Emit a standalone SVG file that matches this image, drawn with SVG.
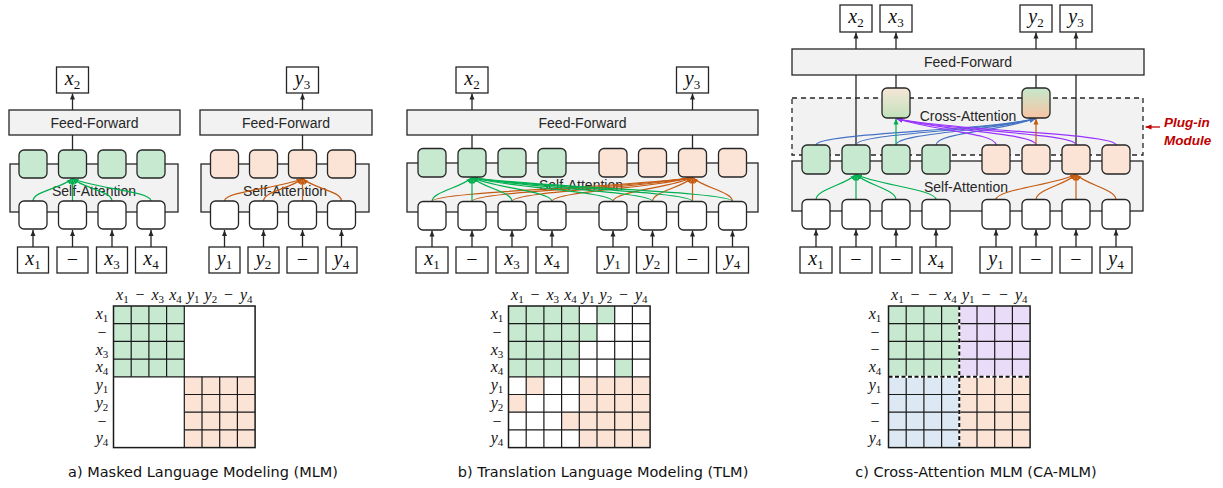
<svg xmlns="http://www.w3.org/2000/svg" width="1223" height="488" viewBox="0 0 1223 488">
<defs>
<style>
.gr{fill:#f2f2f2;stroke:#262626;stroke-width:1.3}
.gn{fill:#c6e9d0;stroke:#262626;stroke-width:1.3}
.pn{fill:#fbe3d6;stroke:#262626;stroke-width:1.3}
.wn{fill:#fff;stroke:#262626;stroke-width:1.3}
.ln{stroke:#262626;stroke-width:1.3;fill:none}
.ar{stroke:#262626;stroke-width:1.3;fill:none;marker-end:url(#ak)}
.cg{stroke:#00b050;stroke-width:1.2;fill:none;marker-end:url(#ag)}
.co{stroke:#c55a11;stroke-width:1.2;fill:none;marker-end:url(#ao)}
.cb{stroke:#4472c4;stroke-width:1.2;fill:none;marker-end:url(#ab)}
.cp{stroke:#9933ff;stroke-width:1.2;fill:none;marker-end:url(#ap)}
.t{font-family:"Liberation Sans",Arial,sans-serif;font-size:14px;fill:#262626;text-anchor:middle}
.m{font-family:"Liberation Serif","DejaVu Serif",serif;font-style:italic;font-size:20px;fill:#111;text-anchor:middle}
.mm{font-size:16px}
.s{font-style:normal;font-size:13px}
.mm .s{font-size:11px}
.d{font-style:normal}
.cap{font-family:"DejaVu Sans",sans-serif;font-size:14.5px;fill:#111;text-anchor:middle}
.grid{stroke:#1a1a1a;stroke-width:1.2;fill:none}
.dsh{fill:#f2f2f2;stroke:#262626;stroke-width:1.3;stroke-dasharray:5 4}
.plug{font-family:"Liberation Sans",Arial,sans-serif;font-size:13.5px;font-weight:bold;font-style:italic;fill:#c00000}
</style>
<marker id="ak" viewBox="0 0 6 6" markerWidth="6" markerHeight="6" refX="6" refY="3" orient="auto" markerUnits="userSpaceOnUse"><path d="M0,0.5 L6,3 L0,5.5z" fill="#262626"/></marker>
<marker id="ag" viewBox="0 0 6 6" markerWidth="6" markerHeight="6" refX="6" refY="3" orient="auto" markerUnits="userSpaceOnUse"><path d="M0,0.5 L6,3 L0,5.5z" fill="#00b050"/></marker>
<marker id="ao" viewBox="0 0 6 6" markerWidth="6" markerHeight="6" refX="6" refY="3" orient="auto" markerUnits="userSpaceOnUse"><path d="M0,0.5 L6,3 L0,5.5z" fill="#c55a11"/></marker>
<marker id="ab" viewBox="0 0 6 6" markerWidth="6" markerHeight="6" refX="6" refY="3" orient="auto" markerUnits="userSpaceOnUse"><path d="M0,0.5 L6,3 L0,5.5z" fill="#4472c4"/></marker>
<marker id="ap" viewBox="0 0 6 6" markerWidth="6" markerHeight="6" refX="6" refY="3" orient="auto" markerUnits="userSpaceOnUse"><path d="M0,0.5 L6,3 L0,5.5z" fill="#9933ff"/></marker>
<marker id="ar" viewBox="0 0 6 6" markerWidth="6" markerHeight="6" refX="6" refY="3" orient="auto" markerUnits="userSpaceOnUse"><path d="M0,0.5 L6,3 L0,5.5z" fill="#c00000"/></marker>
<linearGradient id="gpg" x1="0" y1="0" x2="0" y2="1"><stop offset="0" stop-color="#f6e6d6"/><stop offset="1" stop-color="#c2e2bb"/></linearGradient>
<linearGradient id="ggp" x1="0" y1="0" x2="0" y2="1"><stop offset="0" stop-color="#c6e8cc"/><stop offset="1" stop-color="#f7c4a4"/></linearGradient>
<path id="g8" d="M17.7 0V141.6M35.4 0V141.6M53.1 0V141.6M70.8 0V141.6M88.5 0V141.6M106.2 0V141.6M123.9 0V141.6M0 17.7H141.6M0 35.4H141.6M0 53.1H141.6M0 70.8H141.6M0 88.5H141.6M0 106.2H141.6M0 123.9H141.6"/>
<path id="g4" d="M17.7 0V70.8M35.4 0V70.8M53.1 0V70.8M0 17.7H70.8M0 35.4H70.8M0 53.1H70.8"/>
</defs>
<rect width="1223" height="488" fill="#fff"/>

<!-- ===== Panel a ===== -->
<g id="a-ff1"><rect class="gr" x="9" y="110" width="171" height="25"/><text class="t" x="94.5" y="127.5">Feed-Forward</text></g>
<g id="a-ff2"><rect class="gr" x="200" y="110" width="172" height="25"/><text class="t" x="286" y="127.5">Feed-Forward</text></g>
<g id="a-sa1"><rect class="gr" x="10" y="164" width="168" height="48"/><text class="t" x="94" y="196">Self-Attention</text></g>
<g id="a-sa2"><rect class="gr" x="201" y="164" width="168" height="48"/><text class="t" x="285" y="196">Self-Attention</text></g>
<g id="a-out1"><rect class="wn" x="56.5" y="67" width="32" height="26"/><text class="m" x="72.5" y="85">x<tspan class="s" dy="4">2</tspan></text></g>
<g id="a-out2"><rect class="wn" x="286.5" y="67" width="32" height="26"/><text class="m" x="302.5" y="85">y<tspan class="s" dy="4">3</tspan></text></g>

<g id="a-connectors">
<path class="ar" d="M72.5 110V93.5"/><path class="ar" d="M302.5 110V93.5"/>
<path class="ln" d="M72.5 135V150M302.5 135V150"/>
<path class="ar" d="M33 247V230"/><path class="ar" d="M72.5 247V230"/><path class="ar" d="M112 247V230"/><path class="ar" d="M151 247V230"/>
<path class="ar" d="M224.5 247V230"/><path class="ar" d="M263.5 247V230"/><path class="ar" d="M302.5 247V230"/><path class="ar" d="M341.5 247V230"/>
<path class="cg" d="M33 201C33 191 62.6 188 72.5 178.5"/>
<path class="cg" d="M72.5 201V178.5"/>
<path class="cg" d="M112 201C112 191 82.4 188 72.5 178.5"/>
<path class="cg" d="M151 201C151 191 92 188 72.5 178.5"/>
<path class="co" d="M224.5 201C224.5 191 283 188 302.5 178.5"/>
<path class="co" d="M263.5 201C263.5 191 292.8 188 302.5 178.5"/>
<path class="co" d="M302.5 201V178.5"/>
<path class="co" d="M341.5 201C341.5 191 312.3 188 302.5 178.5"/>
</g>

<g id="a-h1"><rect class="gn" x="19" y="150" width="28" height="28" rx="5"/></g>
<g id="a-h2"><rect class="gn" x="58.5" y="150" width="28" height="28" rx="5"/></g>
<g id="a-h3"><rect class="gn" x="98" y="150" width="28" height="28" rx="5"/></g>
<g id="a-h4"><rect class="gn" x="137" y="150" width="28" height="28" rx="5"/></g>
<g id="a-h5"><rect class="pn" x="210.5" y="150" width="28" height="28" rx="5"/></g>
<g id="a-h6"><rect class="pn" x="249.5" y="150" width="28" height="28" rx="5"/></g>
<g id="a-h7"><rect class="pn" x="288.5" y="150" width="28" height="28" rx="5"/></g>
<g id="a-h8"><rect class="pn" x="327.5" y="150" width="28" height="28" rx="5"/></g>
<g id="a-e1"><rect class="wn" x="19" y="201" width="28" height="28" rx="5"/></g>
<g id="a-e2"><rect class="wn" x="58.5" y="201" width="28" height="28" rx="5"/></g>
<g id="a-e3"><rect class="wn" x="98" y="201" width="28" height="28" rx="5"/></g>
<g id="a-e4"><rect class="wn" x="137" y="201" width="28" height="28" rx="5"/></g>
<g id="a-e5"><rect class="wn" x="210.5" y="201" width="28" height="28" rx="5"/></g>
<g id="a-e6"><rect class="wn" x="249.5" y="201" width="28" height="28" rx="5"/></g>
<g id="a-e7"><rect class="wn" x="288.5" y="201" width="28" height="28" rx="5"/></g>
<g id="a-e8"><rect class="wn" x="327.5" y="201" width="28" height="28" rx="5"/></g>
<g id="a-in1"><rect class="wn" x="17.5" y="247" width="31" height="26"/><text class="m" x="33" y="265">x<tspan class="s" dy="4">1</tspan></text></g>
<g id="a-in2"><rect class="wn" x="57" y="247" width="31" height="26"/><text class="m d" x="72.5" y="266">−</text></g>
<g id="a-in3"><rect class="wn" x="96.5" y="247" width="31" height="26"/><text class="m" x="112" y="265">x<tspan class="s" dy="4">3</tspan></text></g>
<g id="a-in4"><rect class="wn" x="135.5" y="247" width="31" height="26"/><text class="m" x="151" y="265">x<tspan class="s" dy="4">4</tspan></text></g>
<g id="a-in5"><rect class="wn" x="209" y="247" width="31" height="26"/><text class="m" x="224.5" y="265">y<tspan class="s" dy="4">1</tspan></text></g>
<g id="a-in6"><rect class="wn" x="248" y="247" width="31" height="26"/><text class="m" x="263.5" y="265">y<tspan class="s" dy="4">2</tspan></text></g>
<g id="a-in7"><rect class="wn" x="287" y="247" width="31" height="26"/><text class="m d" x="302.5" y="266">−</text></g>
<g id="a-in8"><rect class="wn" x="326" y="247" width="31" height="26"/><text class="m" x="341.5" y="265">y<tspan class="s" dy="4">4</tspan></text></g>

<g id="a-matrix">
<rect x="113.5" y="306" width="70.8" height="70.8" fill="#c6e9d0"/>
<rect x="184.3" y="376.8" width="70.8" height="70.8" fill="#fbe3d6"/>
<use href="#g4" x="113.5" y="306" class="grid"/>
<use href="#g4" x="184.3" y="376.8" class="grid"/>
<path class="grid" d="M184.3 306V447.6M113.5 376.8H255.1"/>
<rect class="grid" x="113.5" y="306" width="141.6" height="141.6" style="stroke-width:1.5"/>
<g class="m mm">
<text x="122.4" y="300">x<tspan class="s" dy="3">1</tspan></text>
<text class="d" x="140.1" y="300">−</text>
<text x="157.8" y="300">x<tspan class="s" dy="3">3</tspan></text>
<text x="175.5" y="300">x<tspan class="s" dy="3">4</tspan></text>
<text x="193.2" y="300">y<tspan class="s" dy="3">1</tspan></text>
<text x="210.9" y="300">y<tspan class="s" dy="3">2</tspan></text>
<text class="d" x="228.6" y="300">−</text>
<text x="246.3" y="300">y<tspan class="s" dy="3">4</tspan></text>
<text x="102" y="319">x<tspan class="s" dy="3">1</tspan></text>
<text class="d" x="102" y="337.5">−</text>
<text x="102" y="354.5">x<tspan class="s" dy="3">3</tspan></text>
<text x="102" y="372">x<tspan class="s" dy="3">4</tspan></text>
<text x="102" y="389.5">y<tspan class="s" dy="3">1</tspan></text>
<text x="102" y="407.5">y<tspan class="s" dy="3">2</tspan></text>
<text class="d" x="102" y="426.5">−</text>
<text x="102" y="443">y<tspan class="s" dy="3">4</tspan></text>
</g>
</g>
<text class="cap" x="203" y="477">a) Masked Language Modeling (MLM)</text>

<!-- ===== Panel b ===== -->
<g id="b-ff"><rect class="gr" x="407" y="110" width="351" height="25"/><text class="t" x="582.5" y="127.5">Feed-Forward</text></g>
<g id="b-sa"><rect class="gr" x="407" y="163" width="351" height="49"/><text class="t" x="581" y="190">Self-Attention</text></g>
<g id="b-out1"><rect class="wn" x="456" y="67" width="32" height="26"/><text class="m" x="472" y="85">x<tspan class="s" dy="4">2</tspan></text></g>
<g id="b-out2"><rect class="wn" x="676.5" y="67" width="32" height="26"/><text class="m" x="692.5" y="85">y<tspan class="s" dy="4">3</tspan></text></g>

<g id="b-connectors">
<path class="ar" d="M472 110V93.5"/><path class="ar" d="M692.5 110V93.5"/>
<path class="ln" d="M472 135V148.5M692.5 135V148.5"/>
<path class="ar" d="M432 247V230.5"/><path class="ar" d="M472 247V230.5"/><path class="ar" d="M512 247V230.5"/><path class="ar" d="M552 247V230.5"/>
<path class="ar" d="M613 247V230.5"/><path class="ar" d="M652.5 247V230.5"/><path class="ar" d="M692.5 247V230.5"/><path class="ar" d="M732.5 247V230.5"/>
<path class="co" d="M432 201.5C432 191.5 627.4 187.5 692.5 177.5"/>
<path class="co" d="M472 201.5C472 191.5 637.4 187.5 692.5 177.5"/>
<path class="co" d="M512 201.5C512 191.5 647.4 187.5 692.5 177.5"/>
<path class="co" d="M552 201.5C552 191.5 657.4 187.5 692.5 177.5"/>
<path class="co" d="M613 201.5C613 191.5 672.6 187.5 692.5 177.5"/>
<path class="co" d="M652.5 201.5C652.5 191.5 682.5 187.5 692.5 177.5"/>
<path class="co" d="M692.5 201.5V177.5"/>
<path class="co" d="M732.5 201.5C732.5 191.5 702.5 187.5 692.5 177.5"/>
<path class="cg" d="M432 201.5C432 191.5 462 187.5 472 177.5"/>
<path class="cg" d="M472 201.5V177.5"/>
<path class="cg" d="M512 201.5C512 191.5 482 187.5 472 177.5"/>
<path class="cg" d="M552 201.5C552 191.5 492 187.5 472 177.5"/>
<path class="cg" d="M613 201.5C613 191.5 507.3 187.5 472 177.5"/>
<path class="cg" d="M652.5 201.5C652.5 191.5 517.1 187.5 472 177.5"/>
<path class="cg" d="M692.5 201.5C692.5 191.5 527.1 187.5 472 177.5"/>
<path class="cg" d="M732.5 201.5C732.5 191.5 537.1 187.5 472 177.5"/>
</g>

<g id="b-h1"><rect class="gn" x="418" y="148.5" width="28" height="28.5" rx="5"/></g>
<g id="b-h2"><rect class="gn" x="458" y="148.5" width="28" height="28.5" rx="5"/></g>
<g id="b-h3"><rect class="gn" x="498" y="148.5" width="28" height="28.5" rx="5"/></g>
<g id="b-h4"><rect class="gn" x="538" y="148.5" width="28" height="28.5" rx="5"/></g>
<g id="b-h5"><rect class="pn" x="599" y="148.5" width="28" height="28.5" rx="5"/></g>
<g id="b-h6"><rect class="pn" x="638.5" y="148.5" width="28" height="28.5" rx="5"/></g>
<g id="b-h7"><rect class="pn" x="678.5" y="148.5" width="28" height="28.5" rx="5"/></g>
<g id="b-h8"><rect class="pn" x="718.5" y="148.5" width="28" height="28.5" rx="5"/></g>
<g id="b-e1"><rect class="wn" x="418" y="201.5" width="28" height="28.5" rx="5"/></g>
<g id="b-e2"><rect class="wn" x="458" y="201.5" width="28" height="28.5" rx="5"/></g>
<g id="b-e3"><rect class="wn" x="498" y="201.5" width="28" height="28.5" rx="5"/></g>
<g id="b-e4"><rect class="wn" x="538" y="201.5" width="28" height="28.5" rx="5"/></g>
<g id="b-e5"><rect class="wn" x="599" y="201.5" width="28" height="28.5" rx="5"/></g>
<g id="b-e6"><rect class="wn" x="638.5" y="201.5" width="28" height="28.5" rx="5"/></g>
<g id="b-e7"><rect class="wn" x="678.5" y="201.5" width="28" height="28.5" rx="5"/></g>
<g id="b-e8"><rect class="wn" x="718.5" y="201.5" width="28" height="28.5" rx="5"/></g>
<g id="b-in1"><rect class="wn" x="416" y="247" width="32" height="26"/><text class="m" x="432" y="265">x<tspan class="s" dy="4">1</tspan></text></g>
<g id="b-in2"><rect class="wn" x="456" y="247" width="32" height="26"/><text class="m d" x="472" y="266">−</text></g>
<g id="b-in3"><rect class="wn" x="496" y="247" width="32" height="26"/><text class="m" x="512" y="265">x<tspan class="s" dy="4">3</tspan></text></g>
<g id="b-in4"><rect class="wn" x="536" y="247" width="32" height="26"/><text class="m" x="552" y="265">x<tspan class="s" dy="4">4</tspan></text></g>
<g id="b-in5"><rect class="wn" x="597" y="247" width="32" height="26"/><text class="m" x="613" y="265">y<tspan class="s" dy="4">1</tspan></text></g>
<g id="b-in6"><rect class="wn" x="636.5" y="247" width="32" height="26"/><text class="m" x="652.5" y="265">y<tspan class="s" dy="4">2</tspan></text></g>
<g id="b-in7"><rect class="wn" x="676.5" y="247" width="32" height="26"/><text class="m d" x="692.5" y="266">−</text></g>
<g id="b-in8"><rect class="wn" x="716.5" y="247" width="32" height="26"/><text class="m" x="732.5" y="265">y<tspan class="s" dy="4">4</tspan></text></g>

<g id="b-matrix">
<g fill="#c6e9d0">
<rect x="508.5" y="306" width="70.8" height="70.8"/>
<rect x="597" y="306" width="17.7" height="17.7"/>
<rect x="579.3" y="323.7" width="17.7" height="17.7"/>
<rect x="614.7" y="359.1" width="17.7" height="17.7"/>
</g>
<g fill="#fbe3d6">
<rect x="579.3" y="376.8" width="70.8" height="70.8"/>
<rect x="526.2" y="376.8" width="17.7" height="17.7"/>
<rect x="508.5" y="394.5" width="17.7" height="17.7"/>
<rect x="561.6" y="412.2" width="17.7" height="17.7"/>
</g>
<use href="#g8" x="508.5" y="306" class="grid"/>
<rect class="grid" x="508.5" y="306" width="141.6" height="141.6" style="stroke-width:1.5"/>
<g class="m mm">
<text x="517.4" y="300">x<tspan class="s" dy="3">1</tspan></text>
<text class="d" x="535.1" y="300">−</text>
<text x="552.8" y="300">x<tspan class="s" dy="3">3</tspan></text>
<text x="570.5" y="300">x<tspan class="s" dy="3">4</tspan></text>
<text x="588.2" y="300">y<tspan class="s" dy="3">1</tspan></text>
<text x="605.9" y="300">y<tspan class="s" dy="3">2</tspan></text>
<text class="d" x="623.6" y="300">−</text>
<text x="641.3" y="300">y<tspan class="s" dy="3">4</tspan></text>
<text x="497" y="319">x<tspan class="s" dy="3">1</tspan></text>
<text class="d" x="497" y="337.5">−</text>
<text x="497" y="354.5">x<tspan class="s" dy="3">3</tspan></text>
<text x="497" y="372">x<tspan class="s" dy="3">4</tspan></text>
<text x="497" y="389.5">y<tspan class="s" dy="3">1</tspan></text>
<text x="497" y="407.5">y<tspan class="s" dy="3">2</tspan></text>
<text class="d" x="497" y="426.5">−</text>
<text x="497" y="443">y<tspan class="s" dy="3">4</tspan></text>
</g>
</g>
<text class="cap" x="603" y="477">b) Translation Language Modeling (TLM)</text>

<!-- ===== Panel c ===== -->
<g id="c-ff"><rect class="gr" x="792" y="49" width="352" height="26"/><text class="t" x="968" y="67">Feed-Forward</text></g>
<g id="c-plugin"><rect class="dsh" x="792" y="98" width="351" height="57"/><text class="t" x="968" y="121">Cross-Attention</text></g>
<g id="c-sa"><rect class="gr" x="792" y="161" width="351" height="50"/><text class="t" x="966" y="192">Self-Attention</text></g>
<g id="c-out1"><rect class="wn" x="840" y="5" width="32" height="27"/><text class="m" x="856" y="23">x<tspan class="s" dy="4">2</tspan></text></g>
<g id="c-out2"><rect class="wn" x="880" y="5" width="32" height="27"/><text class="m" x="896" y="23">x<tspan class="s" dy="4">3</tspan></text></g>
<g id="c-out3"><rect class="wn" x="1020" y="5" width="32" height="27"/><text class="m" x="1036" y="23">y<tspan class="s" dy="4">2</tspan></text></g>
<g id="c-out4"><rect class="wn" x="1060" y="5" width="32" height="27"/><text class="m" x="1076" y="23">y<tspan class="s" dy="4">3</tspan></text></g>
<g id="c-label"><text class="plug" x="1164" y="127">Plug-in</text><text class="plug" x="1164" y="145">Module</text></g>

<g id="c-connectors">
<path class="ar" d="M856 49V32.5"/><path class="ar" d="M896 49V32.5"/><path class="ar" d="M1036 49V32.5"/><path class="ar" d="M1076 49V32.5"/>
<path class="ln" d="M856 75V145M896 75V88M1036 75V88M1076 75V145"/>
<path d="M1160 127H1145.5" stroke="#c00000" stroke-width="1.3" marker-end="url(#ar)"/>
<path class="ar" d="M816 247V229.5"/><path class="ar" d="M856 247V229.5"/><path class="ar" d="M896 247V229.5"/><path class="ar" d="M936 247V229.5"/>
<path class="ar" d="M996 247V229.5"/><path class="ar" d="M1036 247V229.5"/><path class="ar" d="M1076 247V229.5"/><path class="ar" d="M1116 247V229.5"/>
<path class="cg" d="M816 199.5C816 189.5 846 184.5 856 174.5"/>
<path class="cg" d="M856 199.5V174.5"/>
<path class="cg" d="M896 199.5C896 189.5 866 184.5 856 174.5"/>
<path class="cg" d="M936 199.5C936 189.5 876 184.5 856 174.5"/>
<path class="co" d="M996 199.5C996 189.5 1056 184.5 1076 174.5"/>
<path class="co" d="M1036 199.5C1036 189.5 1066 184.5 1076 174.5"/>
<path class="co" d="M1076 199.5V174.5"/>
<path class="co" d="M1116 199.5C1116 189.5 1086 184.5 1076 174.5"/>
<path class="cb" d="M816 145C816 133 985 131 1035.5 118.5"/>
<path class="cb" d="M856 145C856 133 990 131 1035.5 118.5"/>
<path class="cb" d="M896 145C896 133 995 131 1035.5 118.5"/>
<path class="cb" d="M936 145C936 133 1000 131 1035.5 118.5"/>
<path class="cp" d="M996 145C996 133 935 131 896.5 118.5"/>
<path class="cp" d="M1036 145C1036 133 940 131 896.5 118.5"/>
<path class="cp" d="M1076 145C1076 133 945 131 896.5 118.5"/>
<path class="cp" d="M1116 145C1116 133 950 131 896.5 118.5"/>
<path class="cg" d="M896 145V118.5"/>
<path class="co" d="M1036 145V118.5"/>
</g>

<g id="c-ca1"><rect x="882" y="88" width="28" height="30" rx="5" fill="url(#gpg)" stroke="#262626" stroke-width="1.3"/></g>
<g id="c-ca2"><rect x="1022" y="88" width="28" height="30" rx="5" fill="url(#ggp)" stroke="#262626" stroke-width="1.3"/></g>
<g id="c-h1"><rect class="gn" x="802" y="145" width="28" height="29" rx="5"/></g>
<g id="c-h2"><rect class="gn" x="842" y="145" width="28" height="29" rx="5"/></g>
<g id="c-h3"><rect class="gn" x="882" y="145" width="28" height="29" rx="5"/></g>
<g id="c-h4"><rect class="gn" x="922" y="145" width="28" height="29" rx="5"/></g>
<g id="c-h5"><rect class="pn" x="982" y="145" width="28" height="29" rx="5"/></g>
<g id="c-h6"><rect class="pn" x="1022" y="145" width="28" height="29" rx="5"/></g>
<g id="c-h7"><rect class="pn" x="1062" y="145" width="28" height="29" rx="5"/></g>
<g id="c-h8"><rect class="pn" x="1102" y="145" width="28" height="29" rx="5"/></g>
<g id="c-e1"><rect class="wn" x="802" y="199.5" width="28" height="29.5" rx="5"/></g>
<g id="c-e2"><rect class="wn" x="842" y="199.5" width="28" height="29.5" rx="5"/></g>
<g id="c-e3"><rect class="wn" x="882" y="199.5" width="28" height="29.5" rx="5"/></g>
<g id="c-e4"><rect class="wn" x="922" y="199.5" width="28" height="29.5" rx="5"/></g>
<g id="c-e5"><rect class="wn" x="982" y="199.5" width="28" height="29.5" rx="5"/></g>
<g id="c-e6"><rect class="wn" x="1022" y="199.5" width="28" height="29.5" rx="5"/></g>
<g id="c-e7"><rect class="wn" x="1062" y="199.5" width="28" height="29.5" rx="5"/></g>
<g id="c-e8"><rect class="wn" x="1102" y="199.5" width="28" height="29.5" rx="5"/></g>
<g id="c-in1"><rect class="wn" x="800" y="247" width="32" height="26"/><text class="m" x="816" y="265">x<tspan class="s" dy="4">1</tspan></text></g>
<g id="c-in2"><rect class="wn" x="840" y="247" width="32" height="26"/><text class="m d" x="856" y="266">−</text></g>
<g id="c-in3"><rect class="wn" x="880" y="247" width="32" height="26"/><text class="m d" x="896" y="266">−</text></g>
<g id="c-in4"><rect class="wn" x="920" y="247" width="32" height="26"/><text class="m" x="936" y="265">x<tspan class="s" dy="4">4</tspan></text></g>
<g id="c-in5"><rect class="wn" x="980" y="247" width="32" height="26"/><text class="m" x="996" y="265">y<tspan class="s" dy="4">1</tspan></text></g>
<g id="c-in6"><rect class="wn" x="1020" y="247" width="32" height="26"/><text class="m d" x="1036" y="266">−</text></g>
<g id="c-in7"><rect class="wn" x="1060" y="247" width="32" height="26"/><text class="m d" x="1076" y="266">−</text></g>
<g id="c-in8"><rect class="wn" x="1100" y="247" width="32" height="26"/><text class="m" x="1116" y="265">y<tspan class="s" dy="4">4</tspan></text></g>

<g id="c-matrix">
<rect x="888.5" y="306" width="70.8" height="70.8" fill="#c6e9d0"/>
<rect x="959.3" y="306" width="70.8" height="70.8" fill="#e8dcf8"/>
<rect x="888.5" y="376.8" width="70.8" height="70.8" fill="#dce9f5"/>
<rect x="959.3" y="376.8" width="70.8" height="70.8" fill="#fbe3d6"/>
<use href="#g8" x="888.5" y="306" class="grid"/>
<path d="M959.3 306V447.6M888.5 376.8H1030.1" stroke="#fff" stroke-width="2.2"/>
<path d="M959.3 306V447.6M888.5 376.8H1030.1" stroke="#111" stroke-width="2" stroke-dasharray="4 2.5"/>
<rect class="grid" x="888.5" y="306" width="141.6" height="141.6" style="stroke-width:1.5"/>
<g class="m mm">
<text x="897.4" y="300">x<tspan class="s" dy="3">1</tspan></text>
<text class="d" x="915.1" y="300">−</text>
<text class="d" x="932.8" y="300">−</text>
<text x="950.5" y="300">x<tspan class="s" dy="3">4</tspan></text>
<text x="968.2" y="300">y<tspan class="s" dy="3">1</tspan></text>
<text class="d" x="985.9" y="300">−</text>
<text class="d" x="1003.6" y="300">−</text>
<text x="1021.3" y="300">y<tspan class="s" dy="3">4</tspan></text>
<text x="875" y="319">x<tspan class="s" dy="3">1</tspan></text>
<text class="d" x="875" y="337.5">−</text>
<text class="d" x="875" y="355">−</text>
<text x="875" y="372">x<tspan class="s" dy="3">4</tspan></text>
<text x="875" y="389.5">y<tspan class="s" dy="3">1</tspan></text>
<text class="d" x="875" y="409">−</text>
<text class="d" x="875" y="426.5">−</text>
<text x="875" y="443">y<tspan class="s" dy="3">4</tspan></text>
</g>
</g>
<text class="cap" x="976" y="477">c) Cross-Attention MLM (CA-MLM)</text>
</svg>
